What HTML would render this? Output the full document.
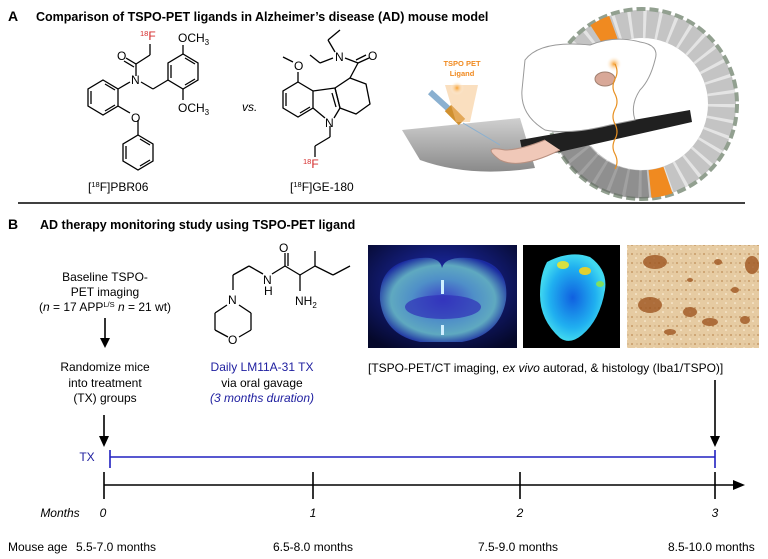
<!DOCTYPE html>
<html><head><meta charset="utf-8"><style>
body{margin:0;background:#fff}
svg{display:block}
text{font-family:"Liberation Sans",Arial,sans-serif}
</style></head><body>
<svg width="768" height="559" viewBox="0 0 768 559" xmlns="http://www.w3.org/2000/svg">
<defs>
<radialGradient id="pet" cx="50%" cy="50%" r="55%"><stop offset="0" stop-color="#3a40c8"/><stop offset="0.45" stop-color="#4f8fc8"/><stop offset="0.75" stop-color="#5fa9c0"/><stop offset="1" stop-color="#1a2aa0"/></radialGradient>
<radialGradient id="petbg" cx="50%" cy="40%" r="70%"><stop offset="0" stop-color="#2030c0"/><stop offset="1" stop-color="#05082a"/></radialGradient>
<radialGradient id="ar" cx="50%" cy="50%" r="50%"><stop offset="0" stop-color="#1060e0"/><stop offset="0.7" stop-color="#20b0f0"/><stop offset="1" stop-color="#40d8f0"/></radialGradient>
<radialGradient id="glow" cx="50%" cy="50%" r="50%"><stop offset="0" stop-color="#f7a030"/><stop offset="1" stop-color="#fff" stop-opacity="0"/></radialGradient>
<linearGradient id="bed" x1="0" y1="0" x2="0" y2="1"><stop offset="0" stop-color="#d0d0d0"/><stop offset="1" stop-color="#8a8a8a"/></linearGradient>
<pattern id="speck" width="9" height="9" patternUnits="userSpaceOnUse">
<circle cx="2" cy="2" r="1" fill="#b07a40" opacity="0.6"/><circle cx="6" cy="6" r="0.8" fill="#fff5e0"/><circle cx="7" cy="2" r="0.6" fill="#8a5a2a" opacity="0.5"/>
</pattern>
</defs>

<!-- Section A -->
<text x="8" y="21" font-size="14" font-weight="bold">A</text>
<text x="36" y="21" font-size="12.5" font-weight="bold">Comparison of TSPO-PET ligands in Alzheimer’s disease (AD) mouse model</text>

<!-- PBR06 -->
<g stroke="#000" stroke-width="1.3" fill="none">
<polygon points="103,80 118,89 118,106 103,115 88,106 88,89"/>
<line x1="91" y1="91" x2="91" y2="104"/><line x1="105" y1="84" x2="115" y2="90"/><line x1="105" y1="111" x2="115" y2="105"/>
<line x1="118" y1="89" x2="130" y2="82"/>
<line x1="136" y1="76" x2="136" y2="64"/><line x1="136" y1="64" x2="150" y2="55"/><line x1="150" y1="55" x2="150" y2="44"/>
<line x1="136" y1="64" x2="126" y2="58"/><line x1="134" y1="67" x2="124" y2="61"/>
<line x1="141" y1="82" x2="153" y2="89"/><line x1="153" y1="89" x2="168" y2="80"/>
<polygon points="168,80 168,63 183,54 198,63 198,80 183,89"/>
<line x1="171" y1="65" x2="171" y2="78"/><line x1="185" y1="58" x2="195" y2="64"/><line x1="185" y1="85" x2="195" y2="79"/>
<line x1="183" y1="54" x2="183" y2="45"/><line x1="183" y1="89" x2="183" y2="100"/>
<line x1="118" y1="106" x2="130" y2="113"/><line x1="138" y1="120" x2="138" y2="135"/>
<polygon points="138,135 153,144 153,161 138,170 123,161 123,144"/>
<line x1="126" y1="146" x2="126" y2="159"/><line x1="140" y1="139" x2="150" y2="145"/><line x1="140" y1="166" x2="150" y2="160"/>
</g>
<g font-size="12">
<text x="131" y="84">N</text><text x="117" y="60">O</text><text x="131" y="122">O</text>
<text x="178" y="42">OCH<tspan font-size="8" dy="3">3</tspan></text>
<text x="178" y="112">OCH<tspan font-size="8" dy="3">3</tspan></text>
<text x="140" y="40" fill="#d42a2a"><tspan font-size="7.5" dy="-4">18</tspan><tspan dy="4">F</tspan></text>
<text x="88" y="191">[<tspan font-size="7.5" dy="-4">18</tspan><tspan dy="4">F]PBR06</tspan></text>
<text x="242" y="111" font-style="italic">vs.</text>
</g>

<!-- GE-180 -->
<g stroke="#000" stroke-width="1.3" fill="none">
<polygon points="298,82 313,91 313,108 298,117 283,108 283,91"/>
<line x1="286" y1="93" x2="286" y2="106"/><line x1="300" y1="113" x2="310" y2="107"/>
<line x1="313" y1="91" x2="335" y2="88"/><line x1="313" y1="108" x2="325" y2="118"/>
<line x1="335" y1="88" x2="340" y2="108"/><line x1="332" y1="93" x2="336" y2="107"/>
<line x1="340" y1="108" x2="334" y2="118"/>
<polygon points="335,88 350,78 366,84 370,104 356,114 340,108"/>
<line x1="298" y1="82" x2="298" y2="72"/><line x1="293" y1="62" x2="283" y2="57"/>
<line x1="350" y1="78" x2="358" y2="63"/><line x1="358" y1="63" x2="369" y2="58"/><line x1="356" y1="60" x2="366" y2="55"/>
<line x1="358" y1="63" x2="345" y2="58"/>
<line x1="335" y1="52" x2="328" y2="40"/><line x1="328" y1="40" x2="340" y2="30"/>
<line x1="333" y1="58" x2="320" y2="63"/><line x1="320" y1="63" x2="310" y2="55"/>
<line x1="330" y1="126" x2="330" y2="137"/><line x1="330" y1="137" x2="315" y2="146"/><line x1="315" y1="146" x2="315" y2="157"/>
</g>
<g font-size="12">
<text x="294" y="70">O</text><text x="335" y="61">N</text><text x="368" y="60">O</text><text x="325" y="127">N</text>
<text x="303" y="168" fill="#d42a2a"><tspan font-size="7.5" dy="-4">18</tspan><tspan dy="4">F</tspan></text>
<text x="290" y="191">[<tspan font-size="7.5" dy="-4">18</tspan><tspan dy="4">F]GE-180</tspan></text>
</g>

<!-- Scanner illustration -->
<circle cx="642" cy="104" r="80" fill="none" stroke="#c4c4c4" stroke-width="28"/>
<circle cx="642" cy="104" r="80" fill="none" stroke="#e4e4e4" stroke-width="28" stroke-dasharray="3 11"/>
<circle cx="642" cy="104" r="95" fill="none" stroke="#92a090" stroke-width="4" stroke-dasharray="9 4"/>
<path d="M598,37 A80,80 0 0 1 614,29" stroke="#f08a20" stroke-width="28" fill="none"/>
<path d="M650,184 A80,80 0 0 0 668,180" stroke="#f08a20" stroke-width="28" fill="none"/>
<path d="M572,145 A80,80 0 0 0 648,184" stroke="#505050" stroke-width="28" fill="none" opacity="0.45"/>
<path d="M402,130 L520,118 L535,168 Q470,178 420,160 Z" fill="url(#bed)"/>
<path d="M520,140 L690,110 L692,122 L524,160 Z" fill="#202020"/>
<path d="M545,140 Q520,150 505,150 Q480,145 500,160 Q520,170 560,150" fill="#f0c8b8" stroke="#b89080"/>
<path d="M525,60 Q540,40 590,45 Q615,35 640,42 Q660,45 655,60 Q650,80 640,90 Q630,105 635,120 L610,125 Q570,135 545,130 Q520,115 522,90 Z" fill="#fff" stroke="#999"/>
<ellipse cx="605" cy="79" rx="10" ry="7" fill="#d8a898" stroke="#a08070"/>
<circle cx="614" cy="64" r="8" fill="url(#glow)"/>
<path d="M615,64 q4,8 0,15 q-4,8 0,15 q4,8 0,15 q-4,8 0,15 q4,8 0,15 q-4,8 0,15 q4,8 0,15" stroke="#e89020" fill="none" stroke-width="1.2"/>
<path d="M430,92 L452,112" stroke="#8ab0d0" stroke-width="6"/>
<path d="M448,108 L462,122" stroke="#d09030" stroke-width="9"/>
<path d="M445,85 L456,122 L470,122 L478,85" fill="#f5c080" opacity="0.5"/>
<circle cx="457" cy="88" r="7" fill="url(#glow)"/>
<line x1="463" y1="123" x2="500" y2="145" stroke="#8ab0d0" stroke-width="1"/>
<text x="462" y="66" font-size="7.5" font-weight="bold" fill="#f08a20" text-anchor="middle">TSPO PET</text>
<text x="462" y="76" font-size="7.5" font-weight="bold" fill="#f08a20" text-anchor="middle">Ligand</text>

<line x1="18" y1="203" x2="745" y2="203" stroke="#000" stroke-width="1.5"/>

<!-- Section B -->
<text x="8" y="229" font-size="14" font-weight="bold">B</text>
<text x="40" y="229" font-size="12.5" font-weight="bold">AD therapy monitoring study using TSPO-PET ligand</text>

<g font-size="12" text-anchor="middle">
<text x="105" y="281">Baseline TSPO-</text>
<text x="105" y="296">PET imaging</text>
<text x="105" y="311">(<tspan font-style="italic">n</tspan> = 17 APP<tspan font-size="7.5" dy="-4">L/S</tspan><tspan dy="4"> </tspan><tspan font-style="italic">n</tspan> = 21 wt)</text>
<text x="105" y="371">Randomize mice</text>
<text x="105" y="387">into treatment</text>
<text x="105" y="402">(TX) groups</text>
<text x="262" y="371" fill="#2020a0">Daily LM11A-31 TX</text>
<text x="262" y="387">via oral gavage</text>
<text x="262" y="402" fill="#2020a0" font-style="italic">(3 months duration)</text>
</g>

<!-- LM11A-31 -->
<g stroke="#000" stroke-width="1.3" fill="none">
<line x1="233" y1="290" x2="233" y2="275"/><line x1="233" y1="275" x2="249" y2="266"/><line x1="249" y1="266" x2="263" y2="274"/>
<line x1="272" y1="274" x2="285" y2="266"/><line x1="285" y1="266" x2="285" y2="253"/><line x1="288" y1="266" x2="288" y2="253"/>
<line x1="285" y1="266" x2="300" y2="275"/><line x1="300" y1="275" x2="315" y2="266"/><line x1="315" y1="266" x2="315" y2="251"/>
<line x1="315" y1="266" x2="333" y2="275"/><line x1="333" y1="275" x2="350" y2="266"/>
<line x1="300" y1="275" x2="300" y2="291"/>
<line x1="227" y1="305" x2="215" y2="313"/><line x1="215" y1="313" x2="215" y2="330"/><line x1="215" y1="330" x2="228" y2="337"/>
<line x1="239" y1="305" x2="251" y2="313"/><line x1="251" y1="313" x2="251" y2="330"/><line x1="251" y1="330" x2="239" y2="337"/>
</g>
<g font-size="12">
<text x="263" y="284">N</text><text x="264" y="295">H</text><text x="279" y="252">O</text>
<text x="295" y="305">NH<tspan font-size="8" dy="3">2</tspan></text>
<text x="228" y="304">N</text><text x="228" y="344">O</text>
</g>

<!-- images -->
<rect x="368" y="245" width="149" height="103" fill="url(#petbg)"/>
<path d="M380,300 Q378,262 420,258 Q440,256 442,268 Q445,256 470,258 Q510,262 506,300 Q500,335 462,342 L420,342 Q384,335 380,300 Z" fill="url(#pet)"/>
<ellipse cx="443" cy="307" rx="38" ry="12" fill="#3030b8" opacity="0.7"/>
<rect x="441" y="280" width="3" height="14" fill="#cfefff"/><rect x="441" y="325" width="3" height="10" fill="#cfefff"/>
<rect x="523" y="245" width="97" height="103" fill="#000"/>
<path d="M547,262 Q570,250 590,257 Q608,270 605,290 Q600,320 582,335 Q570,345 560,338 Q540,320 540,295 Q540,275 547,262 Z" fill="url(#ar)"/>
<ellipse cx="563" cy="265" rx="6" ry="4" fill="#d8e040"/><ellipse cx="585" cy="271" rx="6" ry="4" fill="#e0d030"/><ellipse cx="600" cy="284" rx="4" ry="3" fill="#80e060"/>
<rect x="627" y="245" width="132" height="103" fill="#e6cba2"/>
<rect x="627" y="245" width="132" height="103" fill="url(#speck)"/>
<g fill="#9a4e18" opacity="0.75">
<ellipse cx="655" cy="262" rx="12" ry="7"/><ellipse cx="752" cy="265" rx="7" ry="9"/><ellipse cx="650" cy="305" rx="12" ry="8"/>
<ellipse cx="690" cy="312" rx="7" ry="5"/><ellipse cx="710" cy="322" rx="8" ry="4"/><ellipse cx="745" cy="320" rx="5" ry="4"/>
<ellipse cx="718" cy="262" rx="4" ry="3"/><ellipse cx="670" cy="332" rx="6" ry="3"/><ellipse cx="735" cy="290" rx="4" ry="3"/><ellipse cx="690" cy="280" rx="3" ry="2"/>
</g>
<text x="368" y="372" font-size="12">[TSPO-PET/CT imaging, <tspan font-style="italic">ex vivo</tspan> autorad, &amp; histology (Iba1/TSPO)]</text>

<!-- arrows -->
<g stroke="#000" stroke-width="1.6">
<line x1="105" y1="318" x2="105" y2="340"/><line x1="104" y1="415" x2="104" y2="438"/><line x1="715" y1="380" x2="715" y2="438"/>
</g>
<g fill="#000">
<polygon points="100,338 110,338 105,348"/><polygon points="99,436 109,436 104,447"/><polygon points="710,436 720,436 715,447"/>
</g>

<!-- TX -->
<text x="87" y="461" font-size="12" fill="#2020a0" text-anchor="middle">TX</text>
<g stroke="#2020c0" stroke-width="1.6">
<line x1="110" y1="457" x2="715" y2="457"/><line x1="110" y1="450" x2="110" y2="468"/><line x1="715" y1="450" x2="715" y2="468"/>
</g>

<!-- timeline -->
<g stroke="#000" stroke-width="1.6">
<line x1="104" y1="485" x2="735" y2="485"/>
<line x1="104" y1="472" x2="104" y2="499"/><line x1="313" y1="472" x2="313" y2="499"/><line x1="520" y1="472" x2="520" y2="499"/><line x1="715" y1="472" x2="715" y2="499"/>
</g>
<polygon points="733,480 745,485 733,490" fill="#000"/>
<g font-size="12" font-style="italic" text-anchor="middle">
<text x="60" y="517">Months</text><text x="103" y="517">0</text><text x="313" y="517">1</text><text x="520" y="517">2</text><text x="715" y="517">3</text>
</g>
<g font-size="12">
<text x="8" y="551">Mouse age</text><text x="76" y="551">5.5-7.0 months</text><text x="273" y="551">6.5-8.0 months</text>
<text x="478" y="551">7.5-9.0 months</text><text x="668" y="551">8.5-10.0 months</text>
</g>
</svg>
</body></html>
